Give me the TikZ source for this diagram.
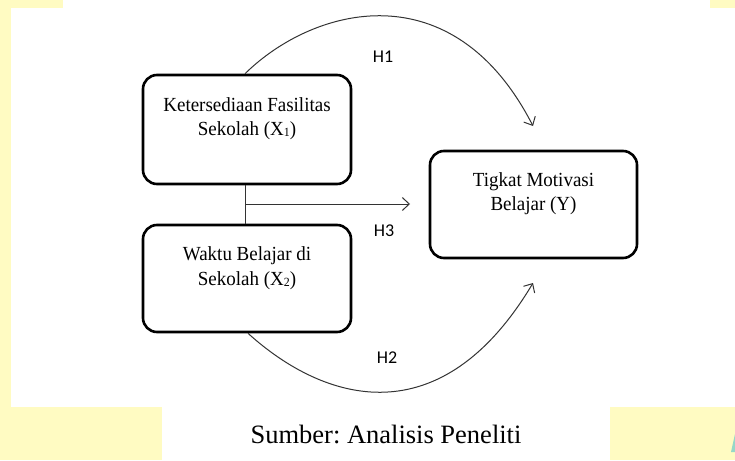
\documentclass[tikz,border=0pt]{standalone}
\usepackage{fontspec}
\setmainfont{Liberation Serif}
\newfontfamily\hfont{Carlito}
\usetikzlibrary{arrows.meta}
\frenchspacing
\definecolor{bgyellow}{RGB}{255,251,194}
\definecolor{tealmark}{RGB}{150,215,200}
\newcommand{\smalldigit}[1]{\raisebox{-1pt}{\fontsize{12.5}{12.5}\selectfont #1}}
\newcommand{\boxlabel}[2]{\fontsize{20}{#1}\selectfont\scalebox{0.95}[1]{\begin{tabular}[b]{@{}c@{}}#2\end{tabular}}}
\begin{document}
\begin{tikzpicture}[x=1pt,y=-1pt,
  box/.style={draw=black, line width=2.6pt, rounded corners=14pt, inner sep=0pt},
  boxtext/.style={anchor=base, inner sep=0pt},
  link/.style={draw=black!80, line width=1pt},
  tip/.style={-{Straight Barb[length=7pt,width=13pt]}},
  hlabel/.style={font=\hfont\fontsize{18}{20}\selectfont, anchor=base, inner sep=0pt}]
% background
\useasboundingbox (0,0) rectangle (735,460);
\fill[bgyellow] (0,0) rectangle (735,460);
\fill[white] (63,0) rectangle (710,8);
\fill[white] (11,8) rectangle (735,407);
\fill[white] (162,407) rectangle (610,460);
\fill[tealmark] (735,434) -- (735,452) -- (731,452) -- cycle;
% boxes
\node[box, minimum width=208pt, minimum height=109pt] (x1) at (247,129.5) {};
\node[box, minimum width=208pt, minimum height=107pt] (x2) at (247,278.5) {};
\node[box, minimum width=207pt, minimum height=107pt] (y) at (533.5,204.5) {};
% box texts
\node[boxtext] (x1t) at (247,135) {\boxlabel{24}{Ketersediaan Fasilitas\\Sekolah (X\smalldigit{1})}};
\node[boxtext] (x2t) at (247,285) {\boxlabel{25}{Waktu Belajar di\\Sekolah (X\smalldigit{2})}};
\node[boxtext] (yt) at (533.5,210) {\boxlabel{24}{Tigkat Motivasi\\Belajar (Y)}};
% connectors
\coordinate (h1end) at (533,126);
\coordinate (h2end) at (533,283);
\coordinate (h3start) at (245,204);
\coordinate (h3end) at (410,204);
\draw[link] (x1.south -| h3start) -- (x2.north -| h3start);
\draw[link, tip] (h3start) -- (h3end);
\draw[link, tip] (x1.north -| h3start) .. controls (314,6) and (453,-30) .. (h1end);
\draw[link, tip] (x2.south -| 248,0) .. controls (325,403) and (441,437) .. (h2end);
% labels
\node[hlabel] (h1) at (383,63) {H1};
\node[hlabel] (h3) at (384,236) {H3};
\node[hlabel] (h2) at (387,363) {H2};
% caption
\node[font=\fontsize{26.5}{30}\selectfont, anchor=base, inner sep=0pt] (cap) at (386,443) {Sumber: Analisis Peneliti};
\end{tikzpicture}
\end{document}
